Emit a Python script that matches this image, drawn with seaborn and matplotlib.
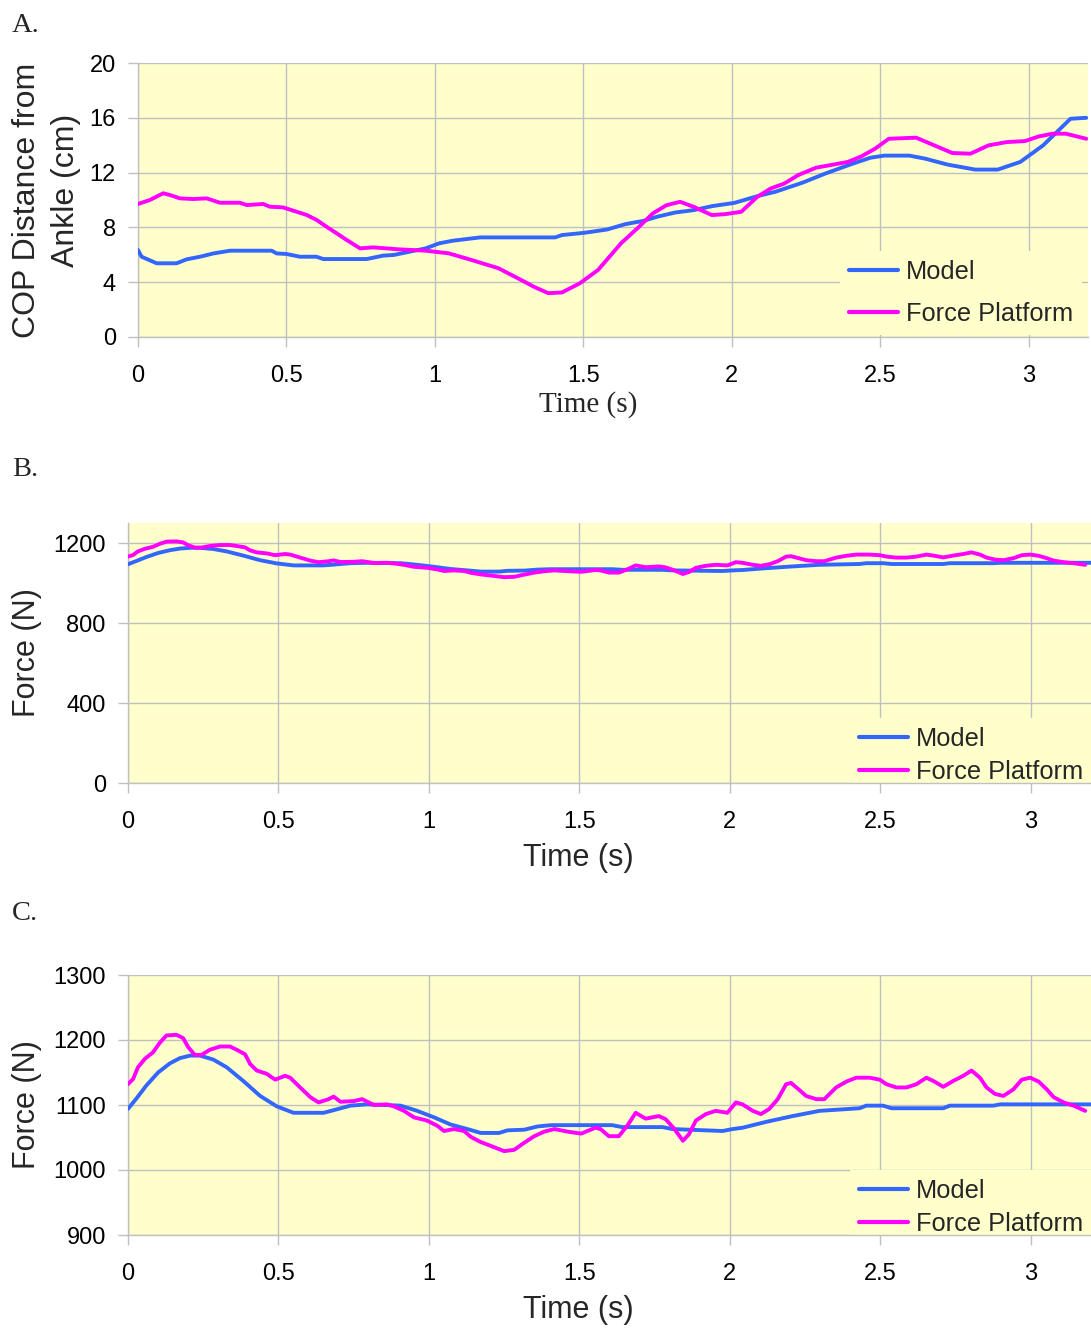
import matplotlib
matplotlib.use("Agg")
import matplotlib.pyplot as plt
import pandas as pd
import seaborn as sns

# ---- Panel A: centre of pressure distance from the ankle (cm) ----
cop_model_t = [0.0, 0.012, 0.063, 0.13, 0.164, 0.209, 0.254, 0.31, 0.45, 0.467,
               0.5, 0.545, 0.601, 0.624, 0.77, 0.826, 0.862, 0.969, 1.015, 1.061,
               1.153, 1.405, 1.428, 1.505, 1.581, 1.642, 1.703, 1.749, 1.81, 1.872,
               1.933, 2.009, 2.086, 2.147, 2.239, 2.315, 2.407, 2.468, 2.514, 2.598,
               2.651, 2.728, 2.82, 2.896, 2.972, 3.049, 3.095, 3.141, 3.194]
cop_model = [6.35, 5.86, 5.38, 5.38, 5.67, 5.86, 6.1, 6.3, 6.3, 6.1,
             6.06, 5.86, 5.86, 5.69, 5.69, 5.94, 5.99, 6.47, 6.84, 7.03,
             7.27, 7.27, 7.44, 7.61, 7.85, 8.24, 8.48, 8.78, 9.09, 9.26,
             9.55, 9.79, 10.28, 10.6, 11.27, 11.93, 12.65, 13.09, 13.24, 13.24,
             13.02, 12.58, 12.22, 12.22, 12.78, 13.99, 14.96, 15.93, 16.0]

cop_plat_t = [0.0, 0.04, 0.085, 0.108, 0.141, 0.186, 0.231, 0.276, 0.343, 0.366,
              0.422, 0.444, 0.489, 0.523, 0.568, 0.602, 0.635, 0.669, 0.703, 0.748,
              0.792, 0.837, 0.878, 0.969, 1.046, 1.122, 1.214, 1.29, 1.336, 1.382,
              1.428, 1.489, 1.55, 1.627, 1.688, 1.734, 1.78, 1.826, 1.872, 1.933,
              1.979, 2.032, 2.086, 2.131, 2.177, 2.223, 2.284, 2.346, 2.391, 2.437,
              2.483, 2.529, 2.621, 2.682, 2.743, 2.804, 2.865, 2.927, 2.988, 3.034,
              3.08, 3.125, 3.194]
cop_plat = [9.71, 10.0, 10.49, 10.36, 10.12, 10.07, 10.12, 9.8, 9.8, 9.63,
            9.71, 9.51, 9.46, 9.22, 8.91, 8.54, 8.05, 7.57, 7.08, 6.47,
            6.54, 6.47, 6.4, 6.3, 6.11, 5.63, 5.02, 4.17, 3.64, 3.2,
            3.25, 3.93, 4.9, 6.84, 8.05, 9.02, 9.62, 9.87, 9.5, 8.9,
            8.97, 9.14, 10.23, 10.84, 11.2, 11.81, 12.36, 12.6, 12.78, 13.19,
            13.75, 14.47, 14.55, 13.99, 13.43, 13.38, 13.99, 14.23, 14.3, 14.64,
            14.84, 14.84, 14.47]

# ---- Panels B and C: vertical force (N) ----
force_model_t = [0.0, 0.028, 0.061, 0.1, 0.139, 0.172, 0.206, 0.239, 0.283, 0.328,
                 0.383, 0.439, 0.494, 0.55, 0.65, 0.683, 0.739, 0.794, 0.906, 0.961,
                 1.017, 1.072, 1.128, 1.172, 1.233, 1.261, 1.317, 1.361, 1.406, 1.609,
                 1.642, 1.776, 1.809, 1.976, 2.009, 2.042, 2.12, 2.209, 2.298, 2.431,
                 2.453, 2.509, 2.537, 2.709, 2.731, 2.876, 2.898, 3.2]
force_model = [1094, 1110, 1130, 1150, 1164, 1172, 1176, 1176, 1170, 1158,
               1137, 1114, 1098, 1088, 1088, 1092, 1099, 1101, 1099, 1091,
               1081, 1070, 1063, 1057, 1057, 1061, 1062, 1067, 1069, 1069,
               1066, 1066, 1063, 1060, 1063, 1065, 1074, 1083, 1091, 1095,
               1099, 1099, 1095, 1095, 1099, 1099, 1101, 1101]

force_plat_t = [0.0, 0.017, 0.033, 0.056, 0.083, 0.106, 0.128, 0.161, 0.183, 0.2,
                0.222, 0.244, 0.272, 0.306, 0.339, 0.361, 0.389, 0.406, 0.428, 0.461,
                0.489, 0.522, 0.539, 0.572, 0.606, 0.633, 0.667, 0.683, 0.706, 0.75,
                0.778, 0.817, 0.861, 0.883, 0.917, 0.95, 0.994, 1.028, 1.05, 1.083,
                1.117, 1.139, 1.172, 1.206, 1.25, 1.283, 1.317, 1.35, 1.383, 1.417,
                1.461, 1.506, 1.553, 1.57, 1.598, 1.631, 1.659, 1.687, 1.72, 1.764,
                1.787, 1.814, 1.844, 1.864, 1.887, 1.92, 1.953, 1.992, 2.02, 2.042,
                2.076, 2.103, 2.131, 2.159, 2.187, 2.203, 2.231, 2.253, 2.287, 2.314,
                2.353, 2.387, 2.42, 2.464, 2.498, 2.52, 2.553, 2.587, 2.62, 2.653,
                2.676, 2.709, 2.742, 2.776, 2.803, 2.831, 2.853, 2.881, 2.909, 2.942,
                2.97, 2.998, 3.026, 3.053, 3.076, 3.109, 3.142, 3.181]
force_plat = [1132, 1140, 1158, 1171, 1181, 1196, 1207, 1208, 1203, 1189,
              1177, 1177, 1185, 1190, 1190, 1185, 1178, 1163, 1153, 1148,
              1139, 1145, 1142, 1127, 1112, 1104, 1109, 1113, 1105, 1106,
              1109, 1100, 1101, 1098, 1091, 1081, 1076, 1068, 1060, 1063,
              1060, 1051, 1043, 1037, 1029, 1031, 1042, 1052, 1059, 1063,
              1059, 1056, 1065, 1063, 1052, 1052, 1068, 1088, 1079, 1083,
              1078, 1064, 1045, 1055, 1076, 1086, 1091, 1088, 1104, 1101,
              1091, 1086, 1094, 1109, 1132, 1134, 1123, 1114, 1109, 1109,
              1127, 1136, 1142, 1142, 1139, 1132, 1127, 1127, 1132, 1142,
              1137, 1128, 1137, 1145, 1153, 1142, 1127, 1117, 1114, 1124,
              1139, 1142, 1136, 1124, 1112, 1104, 1099, 1091]

time_ticks = [0, 0.5, 1, 1.5, 2, 2.5, 3]
time_tick_labels = ["0", "0.5", "1", "1.5", "2", "2.5", "3"]
cop_ticks = [0, 4, 8, 12, 16, 20]
force_ticks_b = [0, 400, 800, 1200]
force_ticks_c = [900, 1000, 1100, 1200, 1300]
series_names = ["Model", "Force Platform"]

sns.set_theme(style="ticks")
plt.rcParams["font.family"] = ["Liberation Sans", "DejaVu Sans"]
SERIF = ["Liberation Serif", "DejaVu Serif"]

BG = "#FFFFCC"
GRID = "#C0C0C0"
BLUE = "#3366FF"
MAGENTA = "#FF00FF"
W, H = 1091, 1328

fig = plt.figure(figsize=(W / 100, H / 100), dpi=100)


def px_axes(left, top, right, bottom):
    return fig.add_axes([left / W, 1 - bottom / H, (right - left) / W, (bottom - top) / H])


def draw_panel(ax, mt, mv, pt, pv, ylim, yticks, leg_anchor, leg_spacing):
    ax.set_facecolor(BG)
    df_m = pd.DataFrame({"t": mt, "v": mv})
    df_p = pd.DataFrame({"t": pt, "v": pv})
    sns.lineplot(data=df_m, x="t", y="v", ax=ax, color=BLUE, lw=2.8,
                 label=series_names[0], sort=False, estimator=None, zorder=3)
    sns.lineplot(data=df_p, x="t", y="v", ax=ax, color=MAGENTA, lw=2.8,
                 label=series_names[1], sort=False, estimator=None, zorder=3)
    ax.set_xlim(0, 3.2)
    ax.set_ylim(*ylim)
    ax.set_xticks(time_ticks)
    ax.set_xticklabels(time_tick_labels)
    ax.set_yticks(yticks)
    ax.grid(True, color=GRID, lw=1)
    ax.set_axisbelow(True)
    for s in ["top", "right"]:
        ax.spines[s].set_visible(False)
    for s in ["left", "bottom"]:
        ax.spines[s].set_color(GRID)
        ax.spines[s].set_linewidth(1)
    ax.tick_params(axis="both", colors=GRID, labelcolor="black", length=7,
                   width=1, labelsize=17)
    ax.tick_params(axis="x", pad=13)
    ax.tick_params(axis="y", pad=9)
    ax.set_xlabel("")
    ax.set_ylabel("")
    leg = ax.legend(loc="upper left", bbox_to_anchor=leg_anchor, borderaxespad=0,
                    frameon=True, facecolor=BG, edgecolor="none", framealpha=1,
                    fancybox=False, fontsize=18.3, handlelength=1.95,
                    handletextpad=0.3, labelspacing=leg_spacing, borderpad=0.35)
    for line in leg.get_lines():
        line.set_linewidth(3)
    # keep the legend panel inside the plot area, under the axis line
    frame = leg.get_frame()
    frame.set_clip_on(True)
    frame.set_clip_box(ax.bbox)
    leg.set_zorder(2.4)
    return ax


# Panel A
axA = px_axes(138, 63, 1088, 337)
draw_panel(axA, cop_model_t, cop_model, cop_plat_t, cop_plat, (0, 20), cop_ticks,
           ((840 - 138) / 950, (337 - 251) / 274), 0.72)
# Panel B
axB = px_axes(128, 523, 1091, 783)
draw_panel(axB, force_model_t, force_model, force_plat_t, force_plat, (0, 1300),
           force_ticks_b, ((850 - 128) / 963, (783 - 718) / 260), 0.35)
# Panel C
axC = px_axes(128, 975, 1091, 1235)
draw_panel(axC, force_model_t, force_model, force_plat_t, force_plat, (900, 1300),
           force_ticks_c, ((850 - 128) / 963, (1235 - 1170) / 260), 0.35)

# Panel letters
for letter, y in [("A.", 25), ("B.", 470), ("C.", 913)]:
    fig.text(12 / W, 1 - y / H, letter, family=SERIF, fontsize=20.5,
             ha="left", va="center")

# Axis titles
fig.text(27 / W, 1 - 200 / H, "COP Distance from", fontsize=23, rotation=90,
         ha="center", va="center")
fig.text(66 / W, 1 - 190 / H, "Ankle (cm)", fontsize=23, rotation=90,
         ha="center", va="center")
fig.text(27 / W, 1 - 653 / H, "Force (N)", fontsize=22, rotation=90,
         ha="center", va="center")
fig.text(27 / W, 1 - 1105 / H, "Force (N)", fontsize=22, rotation=90,
         ha="center", va="center")
fig.text(588 / W, 1 - 405 / H, "Time (s)", family=SERIF, fontsize=21,
         ha="center", va="center")
fig.text(578 / W, 1 - 858 / H, "Time (s)", fontsize=22, ha="center", va="center")
fig.text(578 / W, 1 - 1310 / H, "Time (s)", fontsize=22, ha="center", va="center")

fig.savefig("out.png", dpi=100, facecolor="white")
